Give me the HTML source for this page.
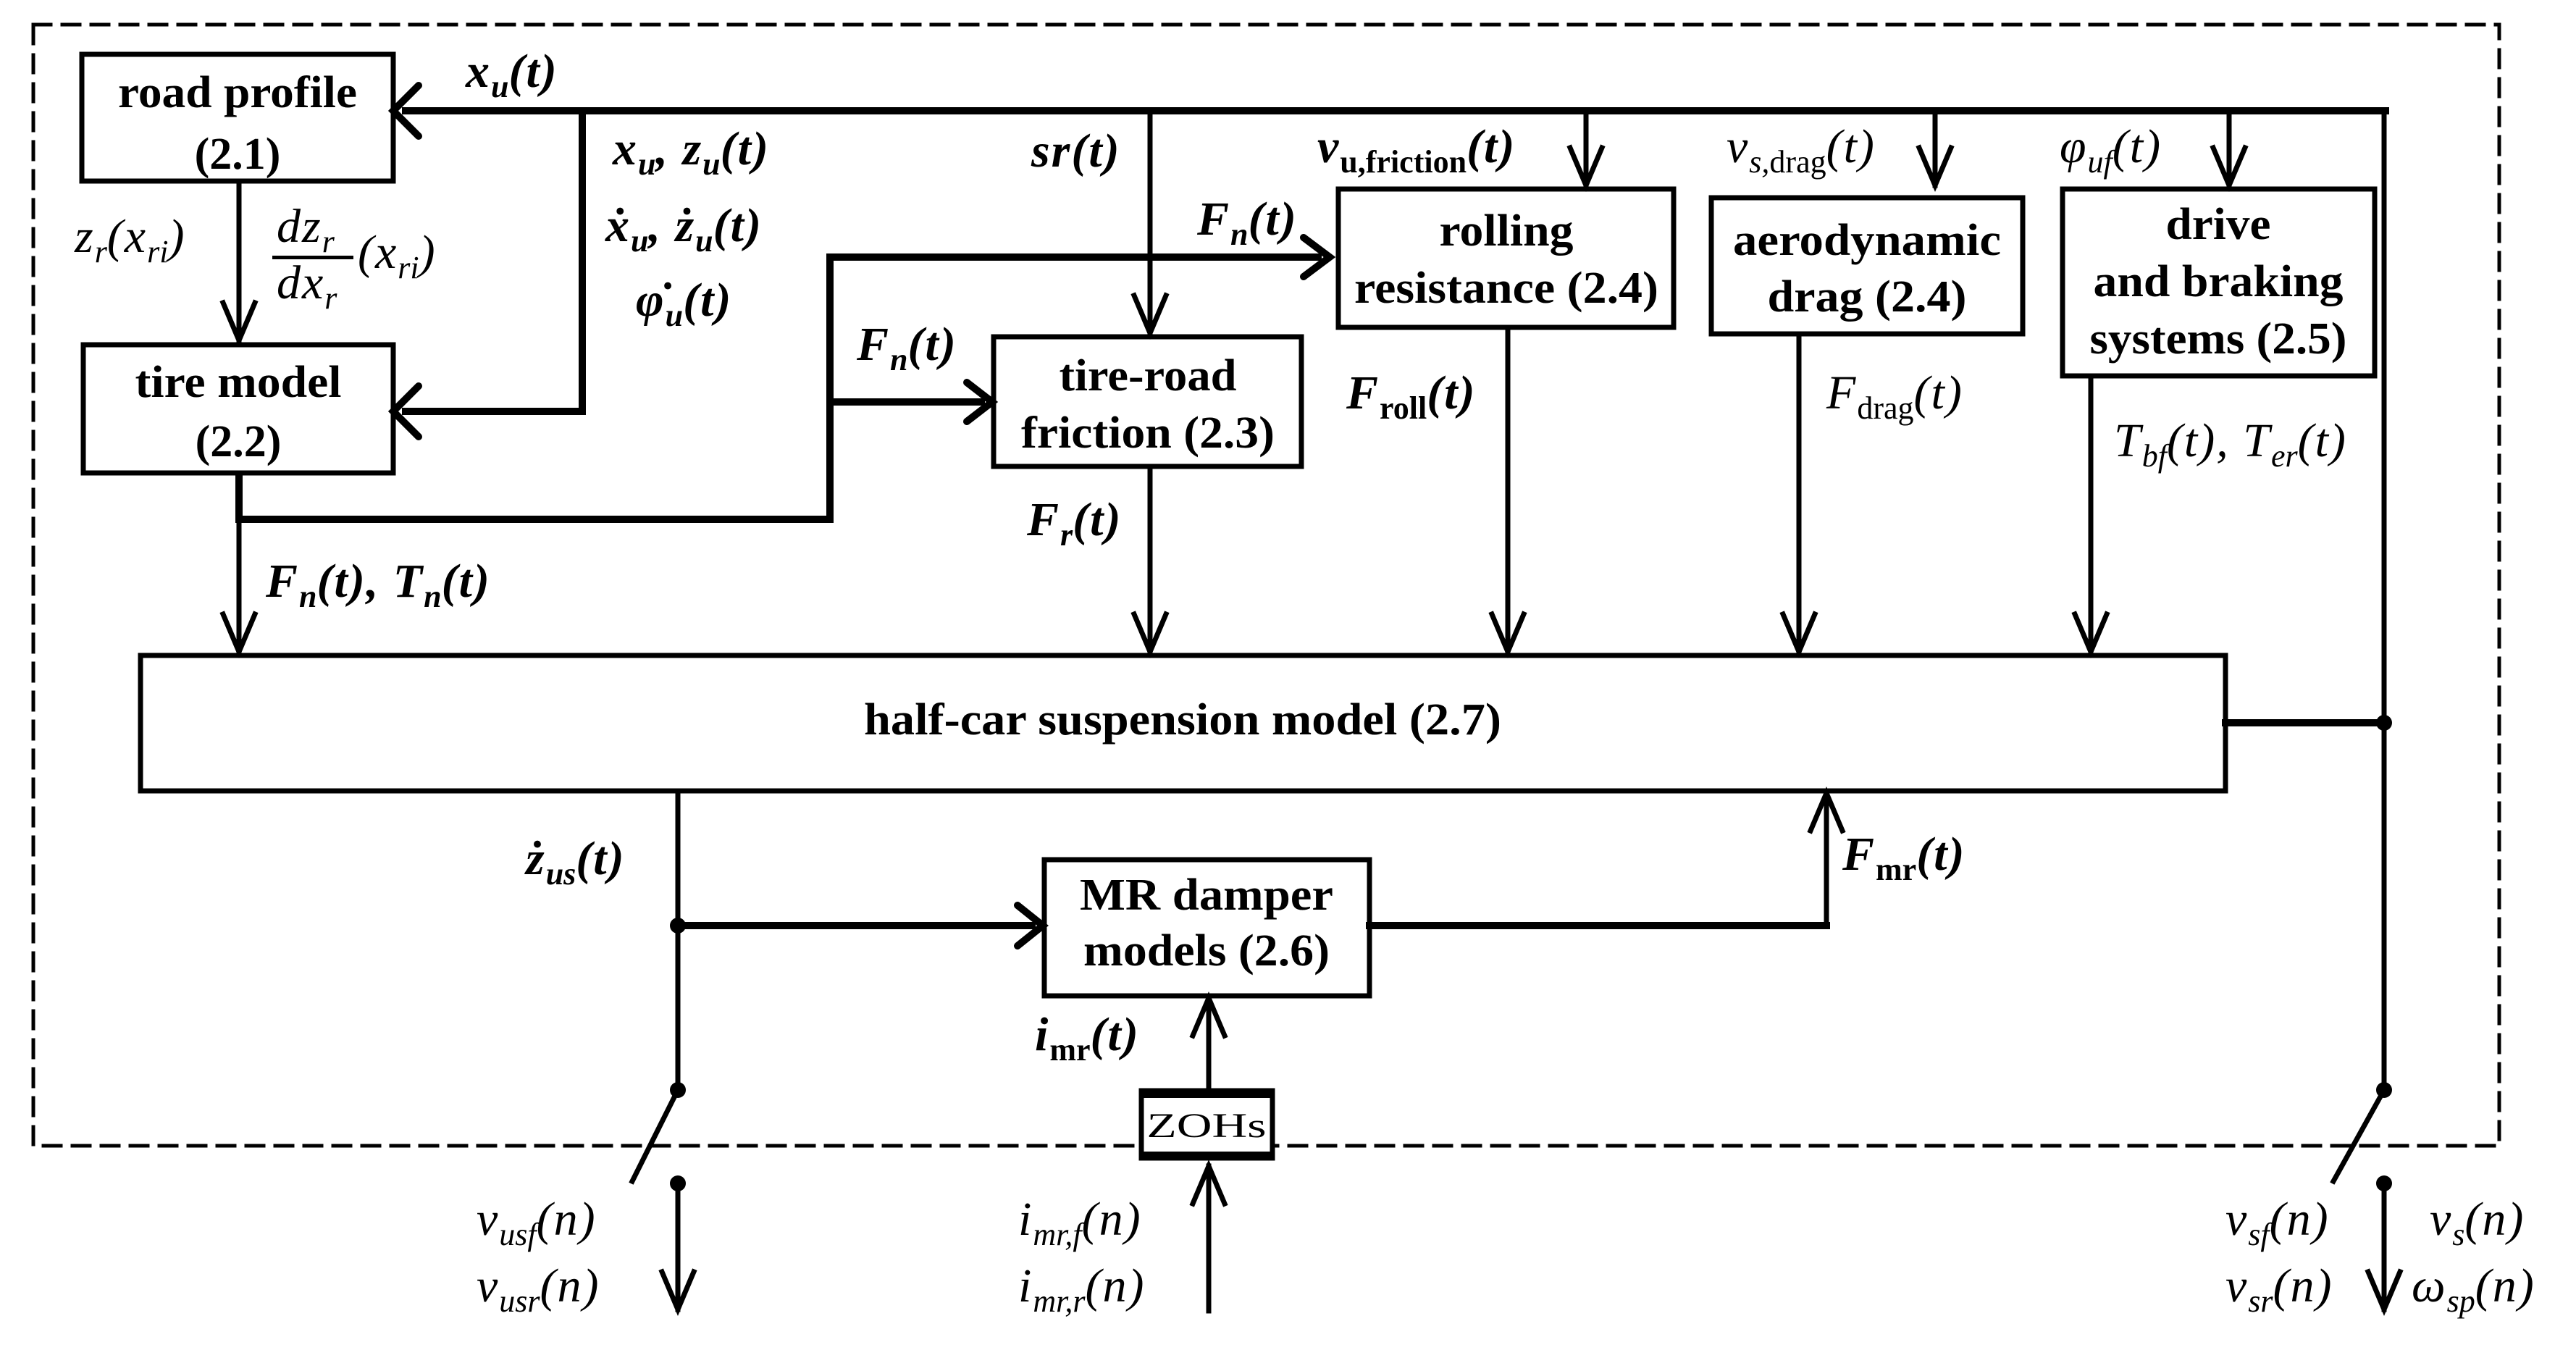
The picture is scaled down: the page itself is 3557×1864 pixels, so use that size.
<!DOCTYPE html>
<html><head><meta charset="utf-8"><style>
html,body{margin:0;padding:0;background:#fff}
svg{display:block}
.b{font-family:"Liberation Serif",serif;font-weight:bold;font-size:62px;text-anchor:middle}
.m{font-family:"Liberation Serif",serif;font-style:italic;font-size:66px;letter-spacing:2px}
.mb{font-family:"Liberation Serif",serif;font-style:italic;font-weight:bold;font-size:66px;letter-spacing:2px}
.s{font-size:44px;letter-spacing:0}
</style></head><body>
<svg width="3557" height="1864" viewBox="0 0 3557 1864" xmlns="http://www.w3.org/2000/svg">
<g fill="none" stroke="#000" stroke-linecap="square">
<rect x="46" y="34" width="3405" height="1548" stroke-width="5" stroke-dasharray="24,16"/>
<g stroke-width="7" fill="#fff">
<rect x="113" y="75" width="430" height="175"/>
<rect x="115" y="476" width="428" height="177"/>
<rect x="1372" y="465" width="425" height="179"/>
<rect x="1848" y="261" width="463" height="191"/>
<rect x="2363" y="273" width="430" height="188"/>
<rect x="2848" y="261" width="431" height="258"/>
<rect x="194" y="905" width="2879" height="187"/>
<rect x="1442" y="1187" width="449" height="188"/>
<rect x="1576" y="1506" width="181" height="93"/>
</g>
<g stroke-width="10">
<line x1="3294" y1="153" x2="560" y2="153"/>
<path d="M578,118 L543,153 L578,188" stroke-linecap="round"/>
<path d="M804,153 V568 H560"/>
<path d="M578,533 L543,568 L578,603" stroke-linecap="round"/>
<path d="M330,655 V717 H1146 V355 H1820"/>
<path d="M1800,328 L1836,355 L1800,382" stroke-linecap="round"/>
<path d="M1146,555 H1355"/>
<path d="M1335,528 L1370,555 L1335,582" stroke-linecap="round"/>
<path d="M3073,998 H3292"/>
<path d="M936,1278 H1425"/>
<path d="M1405,1250 L1440,1278 L1405,1306" stroke-linecap="round"/>
<path d="M1891,1278 H2522"/>
</g>
<g stroke-width="7">
<line x1="3292" y1="153" x2="3292" y2="1505"/>
<line x1="330" y1="253" x2="330" y2="470"/>
<path d="M308,418 L330,470 L352,418"/>
<line x1="1588" y1="153" x2="1588" y2="460"/>
<path d="M1566,408 L1588,460 L1610,408"/>
<line x1="2190" y1="153" x2="2190" y2="256"/>
<path d="M2168,204 L2190,256 L2212,204"/>
<line x1="2672" y1="153" x2="2672" y2="256"/>
<path d="M2650,204 L2672,256 L2694,204"/>
<line x1="3078" y1="153" x2="3078" y2="256"/>
<path d="M3056,204 L3078,256 L3100,204"/>
<line x1="330" y1="717" x2="330" y2="900"/>
<path d="M308,848 L330,900 L352,848"/>
<line x1="1588" y1="644" x2="1588" y2="900"/>
<path d="M1566,848 L1588,900 L1610,848"/>
<line x1="2082" y1="455" x2="2082" y2="900"/>
<path d="M2060,848 L2082,900 L2104,848"/>
<line x1="2484" y1="464" x2="2484" y2="900"/>
<path d="M2462,848 L2484,900 L2506,848"/>
<line x1="2887" y1="522" x2="2887" y2="900"/>
<path d="M2865,848 L2887,900 L2909,848"/>
<line x1="936" y1="1095" x2="936" y2="1505"/>
<line x1="936" y1="1505" x2="873" y2="1631"/>
<line x1="936" y1="1634" x2="936" y2="1808"/>
<path d="M914,1756 L936,1808 L958,1756"/>
<line x1="3292" y1="1505" x2="3222" y2="1631"/>
<line x1="3292" y1="1634" x2="3292" y2="1808"/>
<path d="M3270,1756 L3292,1808 L3314,1756"/>
<line x1="2522" y1="1278" x2="2522" y2="1095"/>
<path d="M2500,1147 L2522,1095 L2544,1147"/>
<line x1="1669" y1="1506" x2="1669" y2="1378"/>
<path d="M1647,1430 L1669,1378 L1691,1430"/>
<line x1="1669" y1="1810" x2="1669" y2="1610"/>
<path d="M1647,1662 L1669,1610 L1691,1662"/>
</g>
</g>
<g fill="#000">
<circle cx="3292" cy="998" r="11"/>
<circle cx="936" cy="1278" r="11"/>
<circle cx="936" cy="1505" r="11"/>
<circle cx="936" cy="1634" r="11"/>
<circle cx="3292" cy="1505" r="11"/>
<circle cx="3292" cy="1634" r="11"/>
<rect x="376" y="353" width="112" height="5"/>
<rect x="1576" y="1506" width="181" height="10"/>
<rect x="1576" y="1590" width="181" height="10"/>
</g>
<g class="b">
<text x="328" y="148" textLength="330" lengthAdjust="spacingAndGlyphs">road profile</text>
<text x="328" y="233">(2.1)</text>
<text x="329" y="548" textLength="285" lengthAdjust="spacingAndGlyphs">tire model</text>
<text x="329" y="630">(2.2)</text>
<text x="1585" y="539" textLength="245" lengthAdjust="spacingAndGlyphs">tire-road</text>
<text x="1585" y="618" textLength="350" lengthAdjust="spacingAndGlyphs">friction (2.3)</text>
<text x="2080" y="339" textLength="185" lengthAdjust="spacingAndGlyphs">rolling</text>
<text x="2080" y="418" textLength="420" lengthAdjust="spacingAndGlyphs">resistance (2.4)</text>
<text x="2578" y="352" textLength="370" lengthAdjust="spacingAndGlyphs">aerodynamic</text>
<text x="2578" y="430" textLength="275" lengthAdjust="spacingAndGlyphs">drag (2.4)</text>
<text x="3063" y="330" textLength="145" lengthAdjust="spacingAndGlyphs">drive</text>
<text x="3063" y="409" textLength="345" lengthAdjust="spacingAndGlyphs">and braking</text>
<text x="3063" y="488" textLength="355" lengthAdjust="spacingAndGlyphs">systems (2.5)</text>
<text x="1633" y="1014" textLength="880" lengthAdjust="spacingAndGlyphs">half-car suspension model (2.7)</text>
<text x="1666" y="1256" textLength="350" lengthAdjust="spacingAndGlyphs">MR damper</text>
<text x="1666" y="1333" textLength="340" lengthAdjust="spacingAndGlyphs">models (2.6)</text>
<text x="1666" y="1570" font-size="48" font-weight="normal" textLength="165" lengthAdjust="spacingAndGlyphs">ZOHs</text>
</g>
<g>
<text class="mb" x="643" y="120">x<tspan class="s" dy="14">u</tspan><tspan dy="-14">(t)</tspan></text>
<text class="mb" x="846" y="227">x<tspan class="s" dy="14">u</tspan><tspan dy="-14">, z</tspan><tspan class="s" dy="14">u</tspan><tspan dy="-14">(t)</tspan></text>
<text class="mb" x="836" y="333">ẋ<tspan class="s" dy="14">u</tspan><tspan dy="-14">, ż</tspan><tspan class="s" dy="14">u</tspan><tspan dy="-14">(t)</tspan></text>
<text class="mb" x="878" y="436">φ̇<tspan class="s" dy="14">u</tspan><tspan dy="-14">(t)</tspan></text>
<text class="m" x="103" y="348">z<tspan class="s" dy="14">r</tspan><tspan dy="-14">(x</tspan><tspan class="s" dy="14">ri</tspan><tspan dy="-14">)</tspan></text>
<text class="m" x="382" y="334">dz<tspan class="s" dy="14">r</tspan></text>
<text class="m" x="382" y="412">dx<tspan class="s" dy="14">r</tspan></text>
<text class="m" x="494" y="370">(x<tspan class="s" dy="14">ri</tspan><tspan dy="-14">)</tspan></text>
<text class="mb" x="1424" y="230">sr(t)</text>
<text class="mb" x="1653" y="324">F<tspan class="s" dy="14">n</tspan><tspan dy="-14">(t)</tspan></text>
<text class="mb" x="1183" y="497">F<tspan class="s" dy="14">n</tspan><tspan dy="-14">(t)</tspan></text>
<text class="mb" x="367" y="824">F<tspan class="s" dy="14">n</tspan><tspan dy="-14">(t), T</tspan><tspan class="s" dy="14">n</tspan><tspan dy="-14">(t)</tspan></text>
<text class="mb" x="1418" y="739">F<tspan class="s" dy="14">r</tspan><tspan dy="-14">(t)</tspan></text>
<text class="mb" x="1819" y="224">v<tspan class="s" dy="14" font-style="normal">u,friction</tspan><tspan dy="-14">(t)</tspan></text>
<text class="m" x="2384" y="224">v<tspan class="s" dy="14">s,</tspan><tspan class="s" font-style="normal">drag</tspan><tspan dy="-14">(t)</tspan></text>
<text class="m" x="2844" y="224">φ<tspan class="s" dy="14">uf</tspan><tspan dy="-14">(t)</tspan></text>
<text class="mb" x="1859" y="564">F<tspan class="s" dy="14" font-style="normal">roll</tspan><tspan dy="-14">(t)</tspan></text>
<text class="m" x="2522" y="564">F<tspan class="s" dy="14" font-style="normal">drag</tspan><tspan dy="-14">(t)</tspan></text>
<text class="m" x="2919" y="630">T<tspan class="s" dy="14">bf</tspan><tspan dy="-14">(t), T</tspan><tspan class="s" dy="14">er</tspan><tspan dy="-14">(t)</tspan></text>
<text class="mb" x="726" y="1207">ż<tspan class="s" dy="14">us</tspan><tspan dy="-14">(t)</tspan></text>
<text class="mb" x="2544" y="1201">F<tspan class="s" dy="14" font-style="normal">mr</tspan><tspan dy="-14">(t)</tspan></text>
<text class="mb" x="1429" y="1450">i<tspan class="s" dy="14" font-style="normal">mr</tspan><tspan dy="-14">(t)</tspan></text>
<text class="m" x="658" y="1705">v<tspan class="s" dy="14">usf</tspan><tspan dy="-14">(n)</tspan></text>
<text class="m" x="658" y="1797">v<tspan class="s" dy="14">usr</tspan><tspan dy="-14">(n)</tspan></text>
<text class="m" x="1406" y="1705">i<tspan class="s" dy="14">mr,f</tspan><tspan dy="-14">(n)</tspan></text>
<text class="m" x="1406" y="1797">i<tspan class="s" dy="14">mr,r</tspan><tspan dy="-14">(n)</tspan></text>
<text class="m" x="3073" y="1705">v<tspan class="s" dy="14">sf</tspan><tspan dy="-14">(n)</tspan></text>
<text class="m" x="3073" y="1797">v<tspan class="s" dy="14">sr</tspan><tspan dy="-14">(n)</tspan></text>
<text class="m" x="3355" y="1705">v<tspan class="s" dy="14">s</tspan><tspan dy="-14">(n)</tspan></text>
<text class="m" x="3330" y="1797">ω<tspan class="s" dy="14">sp</tspan><tspan dy="-14">(n)</tspan></text>
</g>
</svg>
</body></html>
